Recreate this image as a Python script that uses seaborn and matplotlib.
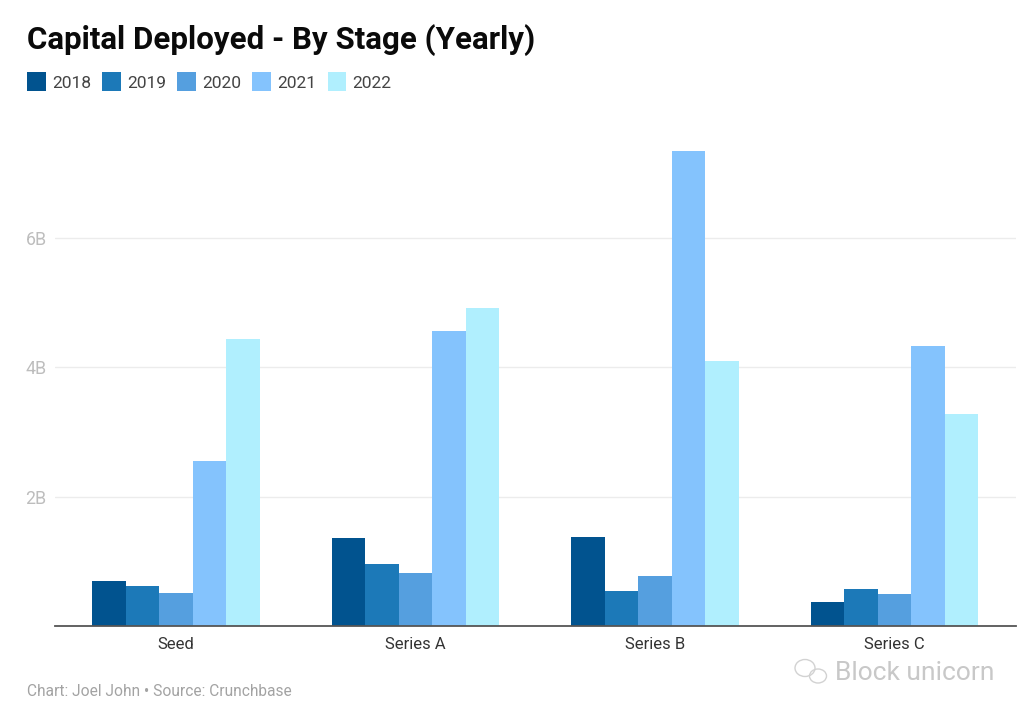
"""Capital deployed by stage, grouped bars per year."""
import matplotlib
matplotlib.use('Agg')
import matplotlib.pyplot as plt
from matplotlib.patches import Ellipse
import pandas as pd
import seaborn as sns

stages = ['Seed', 'Series A', 'Series B', 'Series C']
years = ['2018', '2019', '2020', '2021', '2022']
values_2018 = [0.70, 1.36, 1.37, 0.37]
values_2019 = [0.62, 0.96, 0.54, 0.57]
values_2020 = [0.51, 0.82, 0.77, 0.49]
values_2021 = [2.55, 4.56, 7.34, 4.33]
values_2022 = [4.44, 4.92, 4.10, 3.28]
colors = ['#01538f', '#1c79b8', '#559fdf', '#84c3fd', '#b0effe']
y_ticks = [2, 4, 6]
y_labels = ['2B', '4B', '6B']

W, H = 1027, 718

df = pd.DataFrame({'stage': stages, '2018': values_2018, '2019': values_2019,
                   '2020': values_2020, '2021': values_2021, '2022': values_2022})
long = df.melt(id_vars='stage', value_vars=years, var_name='year', value_name='amount')

sns.set_theme(style='white')
plt.rcParams['font.family'] = ['Roboto', 'DejaVu Sans']

fig = plt.figure(figsize=(W / 100, H / 100), dpi=100)
# plot area in pixels: x 55-1016, y 120-626
ax = fig.add_axes([55 / W, 1 - 626 / H, 961 / W, 506 / H])
sns.barplot(data=long, x='stage', y='amount', hue='year', palette=colors,
            width=0.7, gap=0, saturation=1, linewidth=0, ax=ax, legend=True, zorder=3)

# group spacing is 239.5 px, first group centred at x=176
ax.set_xlim((55 - 176) / 239.5, (1016 - 176) / 239.5)
ax.set_ylim(0, 506 / 64.7)
ax.set_xlabel('')
ax.set_ylabel('')
ax.set_yticks(y_ticks, y_labels)
ax.yaxis.grid(True, color='#ececec', linewidth=1)
ax.set_axisbelow(True)
ax.tick_params(axis='x', length=0, pad=8, labelsize=12, labelcolor='#333333')
ax.tick_params(axis='y', length=0, labelsize=12.8, labelcolor='#bdbdbd', pad=6)
for label in ax.get_yticklabels():
    label.set_horizontalalignment('right')
sns.despine(ax=ax, left=True, top=True, right=True)
ax.spines['bottom'].set_color('#555555')
ax.spines['bottom'].set_linewidth(1.3)
ax.spines['bottom'].set_zorder(5)

handles, labels = ax.get_legend_handles_labels()
ax.get_legend().remove()
fig.legend(handles, labels, loc='upper left', bbox_to_anchor=(27 / W, 1 - 72 / H),
           ncol=5, frameon=False, fontsize=12.5, labelcolor='#444444',
           handlelength=1.09, handleheight=1.35, handletextpad=0.35,
           columnspacing=0.64, borderpad=0, borderaxespad=0)

fig.text(27 / W, 1 - 40 / H, 'Capital Deployed - By Stage (Yearly)', fontsize=22.5,
         fontweight='bold', color='#0a0a0a', va='center', ha='left')
fig.text(27 / W, 1 - 692 / H, 'Chart: Joel John • Source: Crunchbase', fontsize=11.2,
         color='#a3a3a3', va='center', ha='left')

# watermark
fig.text(835 / W, 1 - 673 / H, 'Block unicorn', fontsize=19, color='#c8c8c8',
         va='center', ha='left')
fig.add_artist(Ellipse((805 / W, 1 - 668 / H), 20 / W, 17 / H, fill=False,
                       edgecolor='#d2d2d2', linewidth=1, transform=fig.transFigure))
fig.add_artist(Ellipse((818 / W, 1 - 676 / H), 17 / W, 14 / H, fill=False,
                       edgecolor='#d2d2d2', linewidth=1, transform=fig.transFigure))

fig.savefig('out.png', dpi=100, facecolor='white')
